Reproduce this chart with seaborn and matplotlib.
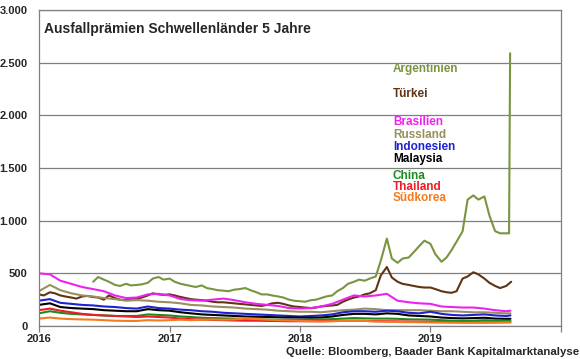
import matplotlib
matplotlib.use("Agg")
import matplotlib.pyplot as plt
import matplotlib.dates as mdates
from matplotlib.ticker import FuncFormatter
import seaborn as sns
import pandas as pd
import numpy as np

# --- data (CDS spreads, bp) ---
# monthly grid: Jan 2016 .. Aug 2019 + mid Aug 2019
monthly_dates = list(pd.date_range("2016-01-01", "2019-08-01", freq="MS")) + [pd.Timestamp("2019-08-13")]

brasilien = [500, 490, 430, 400, 370, 350, 330, 290, 265, 270, 300, 305,
             290, 255, 245, 240, 250, 260, 245, 225, 210, 200, 190, 170,
             165, 170, 185, 210, 250, 290, 280, 290, 305, 240, 225, 215,
             210, 185, 180, 175, 175, 165, 150, 140, 145]
russland = [330, 390, 340, 310, 290, 280, 265, 255, 240, 245, 240, 230,
            225, 215, 200, 195, 185, 180, 175, 165, 160, 155, 145, 140,
            135, 135, 130, 140, 150, 155, 165, 160, 150, 150, 150, 150,
            145, 140, 140, 135, 130, 130, 125, 120, 120]
indonesien = [240, 255, 220, 210, 200, 195, 185, 180, 170, 165, 185, 170,
              165, 155, 150, 140, 135, 125, 120, 115, 110, 105, 100, 95,
              90, 95, 100, 110, 130, 140, 140, 135, 145, 140, 125, 120,
              135, 115, 105, 100, 105, 110, 100, 95, 100]
malaysia = [200, 215, 180, 170, 165, 160, 150, 145, 140, 140, 160, 150,
            145, 130, 120, 110, 105, 100, 95, 90, 88, 85, 82, 80,
            80, 78, 80, 90, 105, 115, 115, 110, 120, 115, 100, 95,
            90, 80, 75, 72, 75, 78, 70, 68, 68]
china = [120, 140, 125, 115, 110, 105, 100, 95, 95, 95, 110, 105,
         100, 90, 85, 78, 75, 72, 70, 65, 62, 60, 58, 57,
         57, 60, 62, 65, 70, 75, 72, 70, 70, 68, 63, 62,
         60, 55, 50, 48, 50, 55, 50, 48, 48]
thailand = [150, 165, 145, 130, 115, 105, 100, 95, 90, 85, 90, 85,
            80, 70, 65, 60, 58, 55, 52, 50, 50, 48, 47, 45,
            45, 45, 46, 47, 48, 50, 48, 46, 45, 44, 42, 41,
            40, 38, 37, 36, 36, 35, 35, 35, 35]
suedkorea = [70, 80, 70, 65, 62, 60, 55, 50, 48, 48, 55, 52,
             55, 60, 55, 58, 62, 60, 62, 70, 65, 60, 55, 52,
             48, 45, 42, 45, 48, 50, 48, 42, 40, 38, 36, 35,
             33, 32, 31, 30, 30, 30, 32, 35, 35]

# semi-monthly grid (1st / 15th): Jan 2016 .. mid Aug 2019
semi_dates = list(pd.date_range("2016-01-01", "2019-08-15", freq="SMS"))

tuerkei = [300, 290, 320, 310, 290, 280, 270, 260, 280, 285, 275, 270,
           250, 290, 265, 250, 245, 260, 260, 270, 290, 310, 300, 295,
           300, 290, 275, 265, 255, 250, 245, 240, 230, 225, 225, 220,
           215, 210, 205, 200, 195, 190, 200, 215, 220, 210, 195, 185,
           180, 175, 170, 175, 185, 190, 195, 200, 230, 250, 270, 280,
           300, 310, 340, 480, 560, 460, 420, 400, 390, 380, 370, 365,
           365, 350, 330, 320, 315, 330, 450, 470, 510, 490, 450, 410,
           380, 360, 380, 420]

# Argentina from June 2016, semi-monthly, then the August 2019 jump
arg_dates = list(pd.date_range("2016-06-01", "2019-08-01", freq="SMS")) + \
    [pd.Timestamp("2019-08-09"), pd.Timestamp("2019-08-12")]
argentinien = [420, 465, 440, 420, 390, 380, 400, 385, 390, 395, 410, 450, 465, 440,
               450, 420, 400, 390, 380, 370, 385, 360, 350, 340, 335, 330,
               345, 350, 360, 340, 320, 300, 300, 290, 280, 270, 250, 240,
               235, 230, 245, 250, 265, 280, 290, 330, 360, 400, 420, 440,
               430, 450, 470, 620, 830, 640, 600, 640, 650, 700, 760, 810,
               780, 680, 610, 650, 720, 800, 900, 1200, 1240, 1200, 1230, 1050,
               900, 880, 880, 880, 2590]

names = ["Argentinien", "Türkei", "Brasilien", "Russland", "Indonesien",
         "Malaysia", "China", "Thailand", "Südkorea"]
colors = ["#7A9440", "#5E3515", "#EE22EE", "#9A8F5E", "#1F22D0",
          "#000000", "#1E8A22", "#EE1C24", "#F37B21"]
label_y = [2440, 2200, 1933, 1813, 1696, 1582, 1424, 1319, 1218]

series = [
    (arg_dates, argentinien), (semi_dates, tuerkei), (monthly_dates, brasilien),
    (monthly_dates, russland), (monthly_dates, indonesien), (monthly_dates, malaysia),
    (monthly_dates, china), (monthly_dates, thailand), (monthly_dates, suedkorea),
]

frames = []
for name, (d, v) in zip(names, series):
    frames.append(pd.DataFrame({"Datum": d, "bp": v, "Land": name}))
df = pd.concat(frames, ignore_index=True)

sns.set_style("white")
plt.rcParams["font.family"] = ["Liberation Sans", "DejaVu Sans"]
plt.rcParams["font.weight"] = "bold"

fig = plt.figure(figsize=(5.8, 3.59), dpi=100)
ax = fig.add_axes([0.067, 0.092, 0.9, 0.880])

sns.lineplot(data=df, x="Datum", y="bp", hue="Land", hue_order=names,
             palette=dict(zip(names, colors)), linewidth=1.5, legend=False,
             estimator=None, sort=False, ax=ax)

ax.set_xlim(pd.Timestamp("2016-01-01"), pd.Timestamp("2020-01-01"))
ax.set_ylim(0, 3000)
ax.set_yticks(np.arange(0, 3001, 500))
ax.yaxis.set_major_formatter(FuncFormatter(lambda v, p: f"{v:,.0f}".replace(",", ".")))
ax.xaxis.set_major_locator(mdates.YearLocator())
ax.xaxis.set_major_formatter(FuncFormatter(
    lambda v, p: "" if mdates.num2date(v).year >= 2020 else mdates.num2date(v).strftime("%Y")))
ax.set_xlabel("")
ax.set_ylabel("")

ax.grid(axis="y", color="#7f7f7f", linewidth=0.9)
ax.set_axisbelow(True)
for s in ax.spines.values():
    s.set_color("#7f7f7f")
    s.set_linewidth(0.9)
ax.tick_params(axis="y", length=0, pad=8, labelsize=8)
ax.tick_params(axis="x", length=4, width=0.9, color="#7f7f7f", pad=2, labelsize=8,
               direction="out", bottom=True)
for t in ax.get_xticklabels() + ax.get_yticklabels():
    t.set_fontweight("bold")

ax.text(0.009, 0.962, "Ausfallprämien Schwellenländer 5 Jahre", transform=ax.transAxes,
        fontsize=10, fontweight="bold", va="top", ha="left")

for name, c, yv in zip(names, colors, label_y):
    ax.text(0.678, yv, name, color=c, fontsize=8.5, fontweight="bold",
            va="center", ha="left", transform=ax.get_yaxis_transform())

fig.text(0.998, 0.006, "Quelle: Bloomberg, Baader Bank Kapitalmarktanalyse",
         fontsize=8.2, fontweight="bold", ha="right", va="bottom")

fig.savefig("out.png", dpi=100)
